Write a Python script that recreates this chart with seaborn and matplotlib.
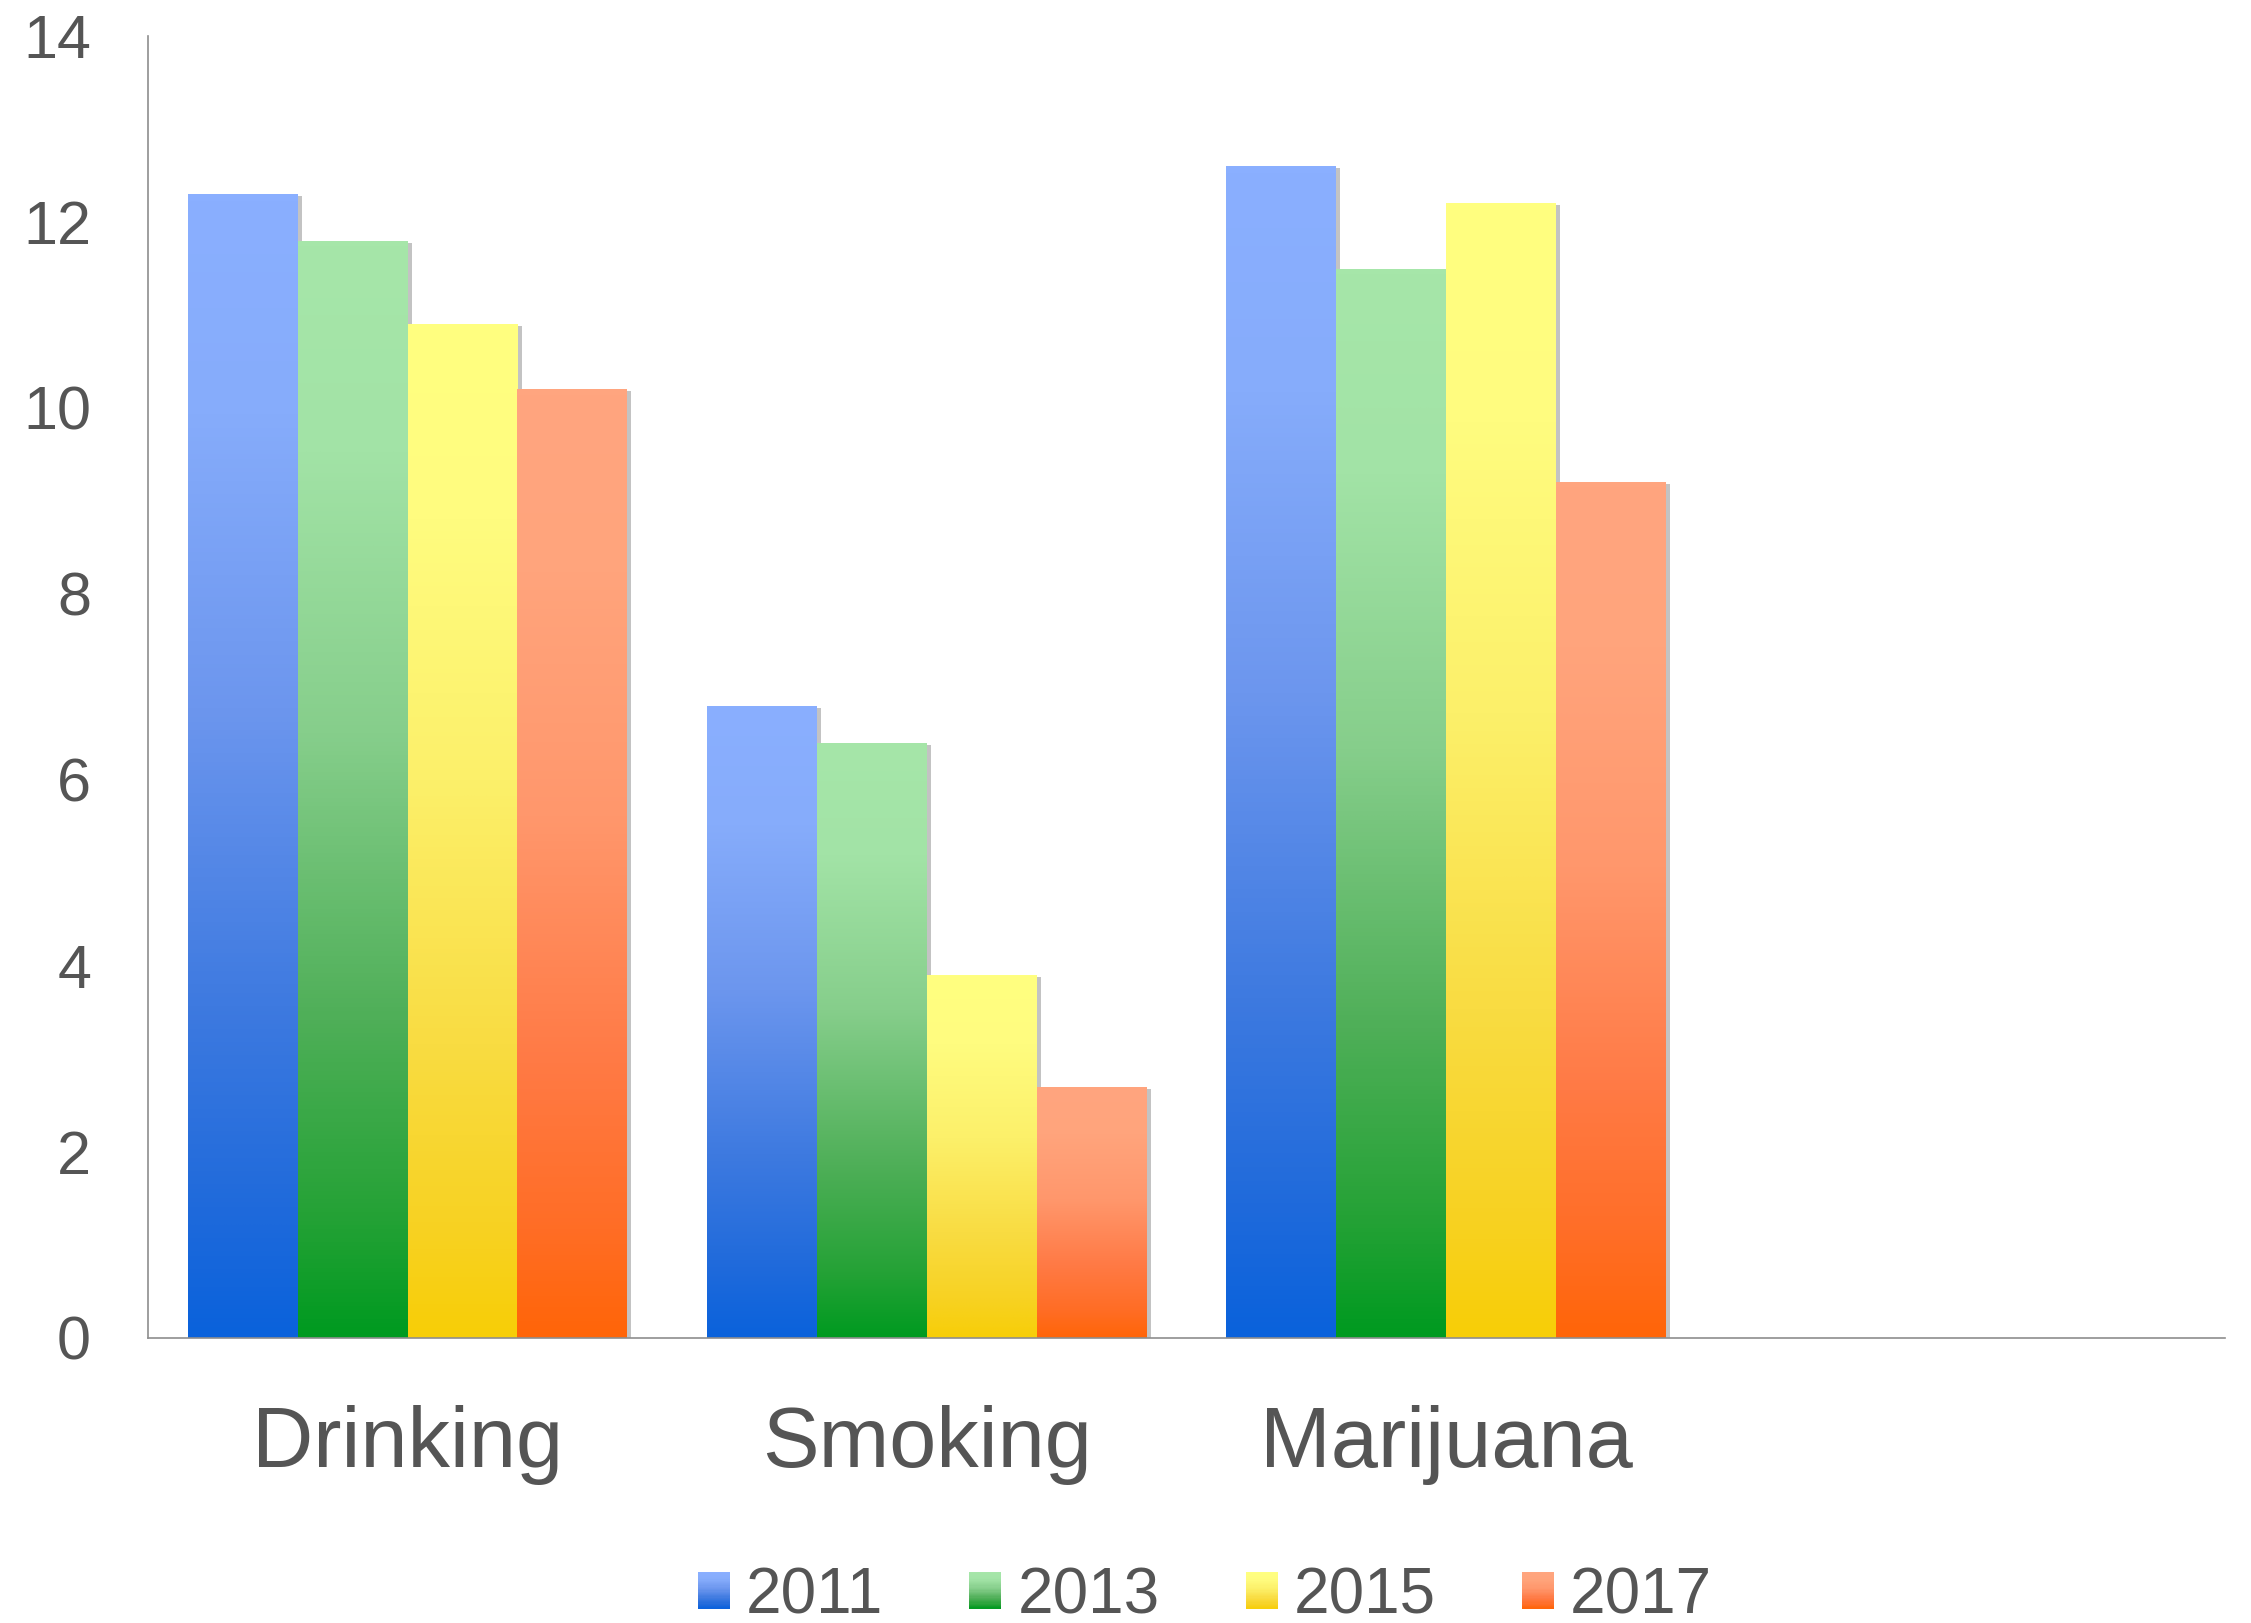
import numpy as np
import pandas as pd
import matplotlib
matplotlib.use("Agg")
import matplotlib.pyplot as plt
import matplotlib.patheffects as pe
from matplotlib.colors import LinearSegmentedColormap
from matplotlib.patches import Rectangle
from matplotlib.legend_handler import HandlerBase
import seaborn as sns

# Datos
categories = ["Drinking", "Smoking", "Marijuana"]
years = ["2011", "2013", "2015", "2017"]
v2011 = [12.3, 6.8, 12.6]
v2013 = [11.8, 6.4, 11.5]
v2015 = [10.9, 3.9, 12.2]
v2017 = [10.2, 2.7, 9.2]

# colores del degradado, de arriba hacia abajo
grad_stops = [0, 0.19, 0.45, 0.71, 0.89, 1]
grad_colors = {
    "2011": ["#8AAFFF", "#86ACFB", "#6C96EE", "#3E7AE0", "#1F6ADB", "#0A62DC"],
    "2013": ["#A6E6A9", "#A2E3A6", "#86CE8B", "#4FAF58", "#25A236", "#009A20"],
    "2015": ["#FFFF80", "#FFFC7F", "#FCF06A", "#F9DC42", "#F7D223", "#F7CE08"],
    "2017": ["#FFA57F", "#FFA47C", "#FF976C", "#FF7A45", "#FF6D25", "#FF6508"],
}

df = pd.DataFrame({
    "category": categories * 4,
    "year": [y for y in years for _ in categories],
    "value": v2011 + v2013 + v2015 + v2017,
})

cmaps = {}
for y in years:
    pos = [1 - s for s in grad_stops][::-1]
    cols = grad_colors[y][::-1]
    cmaps[y] = LinearSegmentedColormap.from_list("g" + y, list(zip(pos, cols)))

sns.set_style("white")
plt.rcParams["font.family"] = ["Liberation Sans", "DejaVu Sans"]
text_color = "#555555"

fig = plt.figure(figsize=(22.51, 16.23), dpi=100)
ax = fig.add_axes([148 / 2251, 285 / 1623, (2225 - 148) / 2251, (1338 - 36) / 1623])

sns.barplot(data=df, x="category", y="value", hue="year", order=categories,
            hue_order=years, palette=[grad_colors[y][-1] for y in years],
            width=0.846, saturation=1, legend=False, ax=ax, linewidth=0)

grad = np.linspace(0, 1, 256).reshape(-1, 1)
for container, y in zip(ax.containers, years):
    for bar in container:
        x0 = bar.get_x()
        w = bar.get_width()
        h = bar.get_height()
        bar.set_path_effects([pe.SimplePatchShadow(offset=(3, -1.5), shadow_rgbFace="#7a7a7a", alpha=0.45),
                              pe.Normal()])
        im = ax.imshow(grad, extent=[x0, x0 + w, 0, h], origin="lower", aspect="auto",
                       cmap=cmaps[y], zorder=bar.get_zorder() + 0.1, interpolation="bilinear")
        im.set_clip_path(bar)

ax.set_xlim(-0.5, 3.5)
ax.set_ylim(0, 14)
ax.set_yticks(range(0, 15, 2))
ax.set_xticks([0, 1, 2])
ax.set_xticklabels(categories)
ax.set_xlabel("")
ax.set_ylabel("")
ax.tick_params(axis="y", length=0, pad=41, labelsize=44, labelcolor=text_color)
ax.tick_params(axis="x", length=0, pad=48, labelsize=61, labelcolor=text_color)
for s in ["top", "right"]:
    ax.spines[s].set_visible(False)
for s in ["left", "bottom"]:
    ax.spines[s].set_color("#8E8E8E")
    ax.spines[s].set_linewidth(1.2)


class GradientHandler(HandlerBase):
    def __init__(self, cmap):
        super().__init__()
        self.cmap = cmap

    def create_artists(self, legend, orig_handle, xdescent, ydescent, width, height, fontsize, trans):
        n = 30
        arts = []
        for i in range(n):
            r = Rectangle((-xdescent, -ydescent + i * height / n), width, height / n + 0.3,
                          facecolor=self.cmap((i + 0.5) / n), linewidth=0, transform=trans)
            arts.append(r)
        return arts


handles = [Rectangle((0, 0), 1, 1) for _ in years]
hmap = {h: GradientHandler(cmaps[y]) for h, y in zip(handles, years)}
leg = fig.legend(handles, years, handler_map=hmap, loc="center",
                 bbox_to_anchor=(1205 / 2251, 1 - 1596 / 1623), ncol=4, frameon=False,
                 fontsize=46, handlelength=0.5, handleheight=0.5, handletextpad=0.25,
                 columnspacing=1.35, borderpad=0, borderaxespad=0)
for t in leg.get_texts():
    t.set_color(text_color)

fig.savefig("out.png", dpi=100)
